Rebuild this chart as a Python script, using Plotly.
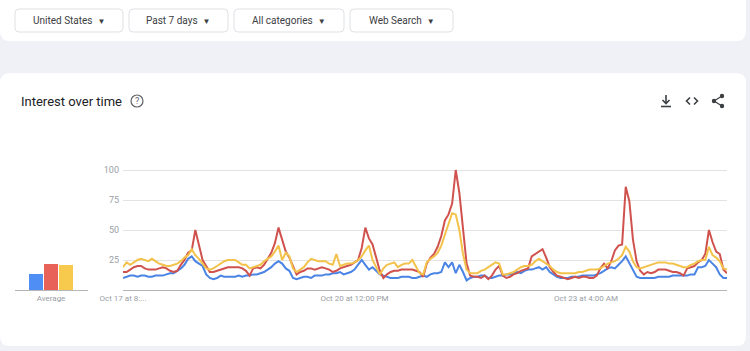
import plotly.graph_objects as go
import pandas as pd

W, H = 750, 351


def px(x):
    return x / W


def py(y):
    return 1 - y / H


# ---------------- data ----------------
times = pd.date_range("2023-10-17 20:00", periods=168, freq="h")

series_names = ["Term 1", "Term 2", "Term 3"]

blue = [10, 11, 12, 12, 11, 12, 12, 11, 11, 12, 12, 12, 13, 14, 14, 16, 18, 21, 26, 28,
        24, 22, 20, 13, 10, 9, 10, 12, 11, 11, 11, 11, 12, 11, 12, 12, 13, 13, 14, 15,
        17, 19, 22, 24, 22, 18, 16, 10, 9, 10, 11, 11, 10, 12, 12, 12, 13, 13, 14, 14,
        15, 13, 14, 15, 17, 21, 25, 21, 17, 19, 16, 13, 12, 11, 10, 10, 10, 11, 11, 11,
        10, 10, 11, 12, 11, 13, 14, 14, 15, 23, 19, 23, 14, 21, 15, 8, 10, 11, 11, 12,
        12, 10, 10, 11, 12, 12, 13, 13, 14, 15, 14, 16, 17, 17, 18, 19, 17, 19, 15, 13,
        11, 10, 10, 10, 11, 11, 11, 12, 12, 12, 12, 13, 14, 16, 18, 19, 18, 21, 24, 28,
        22, 17, 11, 10, 10, 10, 10, 10, 11, 11, 11, 11, 12, 12, 12, 12, 12, 13, 13, 19,
        19, 20, 25, 22, 19, 13, 10, 10]

red = [15, 15, 17, 19, 20, 20, 18, 17, 17, 17, 18, 19, 18, 16, 15, 16, 21, 25, 31, 33,
       50, 38, 25, 20, 15, 15, 16, 17, 18, 19, 19, 19, 19, 18, 16, 12, 18, 19, 18, 21,
       26, 31, 39, 52, 42, 32, 27, 20, 13, 15, 16, 18, 18, 17, 18, 19, 18, 17, 15, 16,
       18, 19, 20, 21, 23, 25, 35, 52, 43, 38, 27, 16, 10, 13, 15, 16, 16, 17, 17, 17,
       17, 16, 15, 11, 22, 27, 30, 36, 45, 58, 63, 72, 100, 81, 52, 22, 12, 11, 11, 10,
       12, 9, 12, 17, 20, 12, 10, 11, 13, 14, 16, 17, 18, 28, 30, 32, 34, 27, 19, 15,
       12, 11, 10, 9, 10, 11, 10, 11, 11, 10, 10, 12, 18, 22, 18, 24, 33, 37, 38, 86,
       74, 42, 24, 16, 13, 15, 14, 15, 17, 17, 17, 16, 15, 15, 14, 12, 18, 19, 20, 23,
       25, 30, 50, 40, 32, 30, 17, 14]

yellow = [19, 23, 21, 23, 25, 26, 25, 24, 26, 24, 22, 21, 20, 20, 21, 22, 24, 27, 29, 34,
          29, 26, 22, 18, 17, 18, 20, 22, 24, 25, 25, 25, 23, 21, 21, 18, 19, 20, 21, 24,
          26, 28, 32, 37, 25, 31, 28, 18, 15, 17, 19, 23, 26, 25, 24, 24, 24, 22, 21, 30,
          20, 21, 22, 22, 23, 25, 28, 33, 37, 25, 19, 13, 18, 21, 22, 23, 19, 21, 22, 22,
          25, 19, 14, 13, 23, 26, 28, 31, 37, 46, 55, 64, 63, 50, 30, 17, 14, 14, 14, 16,
          17, 19, 21, 23, 22, 13, 13, 14, 15, 17, 19, 20, 20, 21, 24, 26, 24, 22, 20, 17,
          15, 14, 14, 14, 14, 14, 15, 15, 16, 17, 17, 17, 18, 20, 22, 23, 24, 26, 29, 36,
          32, 24, 19, 18, 19, 20, 21, 22, 23, 23, 23, 22, 22, 21, 20, 19, 19, 21, 22, 24,
          25, 25, 36, 29, 27, 24, 18, 17]

avg_values = [13, 22, 21]
avg_label = ["Average"]

x_tick_vals = [times[0], times[64], times[128]]
x_tick_text = ["Oct 17 at 8:...", "Oct 20 at 12:00 PM", "Oct 23 at 4:00 AM"]
y_tick_vals = [25, 50, 75, 100]

dropdowns = ["United States", "Past 7 days", "All categories", "Web Search"]
title_text = "Interest over time"

# ---------------- styles ----------------
colors = ["#4a84e4", "#d0524f", "#f3c24a"]
bar_colors = ["#4f8ff5", "#e8625a", "#f7c94c"]
page_bg = "#eff1f7"
xtick_font = dict(family="Roboto, Arial, sans-serif", size=8, color="#9aa0a6")
ytick_font = dict(family="Roboto, Arial, sans-serif", size=9, color="#9aa0a6")

fig = go.Figure()

for name, vals, c in zip(series_names, [blue, red, yellow], colors):
    fig.add_trace(go.Scatter(x=times, y=vals, mode="lines", name=name,
                             line=dict(color=c, width=2), showlegend=False,
                             xaxis="x", yaxis="y"))

for i, (name, v) in enumerate(zip(series_names, avg_values)):
    fig.add_trace(go.Bar(x=[i], y=[v], name=name, marker=dict(color=bar_colors[i], line=dict(width=0)),
                         width=0.97, showlegend=False, xaxis="x2", yaxis="y2"))

plot_y_domain = [py(290), py(164)]

fig.update_layout(
    width=W, height=H,
    margin=dict(l=0, r=0, t=0, b=0, autoexpand=False),
    paper_bgcolor=page_bg,
    plot_bgcolor="rgba(0,0,0,0)",
    xaxis=dict(domain=[px(123), px(727)], range=[times[0], times[-1]],
               tickvals=x_tick_vals, ticktext=x_tick_text, tickfont=xtick_font,
               showgrid=False, zeroline=False, showline=True, linecolor="#b5b5b5",
               linewidth=1, ticks="", ticklabelstandoff=0, automargin=False),
    yaxis=dict(domain=plot_y_domain, range=[0, 105], tickvals=y_tick_vals,
               tickfont=ytick_font, showgrid=True, gridcolor="#e3e3e3", gridwidth=1,
               zeroline=False, showline=False, ticks="", ticklabelstandoff=3,
               automargin=False),
    xaxis2=dict(domain=[px(15), px(88)], range=[-1.45, 3.52], tickvals=[1],
                ticktext=avg_label, tickfont=xtick_font, showgrid=False, zeroline=False,
                showline=True, linecolor="#b5b5b5", linewidth=1, ticks="",
                anchor="y2", ticklabelstandoff=0, automargin=False),
    yaxis2=dict(domain=plot_y_domain, range=[0, 105], visible=False, anchor="x2",
                automargin=False),
    bargap=0,
)


def rrect(x0, y0, x1, y1, r):
    X0, X1 = px(x0), px(x1)
    Y0, Y1 = py(y0), py(y1)
    rx, ry = r / W, r / H
    return (f"M {X0+rx},{Y0} L {X1-rx},{Y0} Q {X1},{Y0} {X1},{Y0-ry} "
            f"L {X1},{Y1+ry} Q {X1},{Y1} {X1-rx},{Y1} L {X0+rx},{Y1} "
            f"Q {X0},{Y1} {X0},{Y1+ry} L {X0},{Y0-ry} Q {X0},{Y0} {X0+rx},{Y0} Z")


shapes = []
# cards
shapes.append(dict(type="path", path=rrect(0, -20, 746, 41, 10), xref="paper", yref="paper",
                   fillcolor="white", line=dict(width=0), layer="below"))
shapes.append(dict(type="path", path=rrect(0, 73, 746, 346, 10), xref="paper", yref="paper",
                   fillcolor="white", line=dict(width=0), layer="below"))
# dropdown boxes
boxes = [(15, 123), (129, 228), (234, 344), (350, 453)]
annotations = []
for (bx0, bx1), label in zip(boxes, dropdowns):
    shapes.append(dict(type="path", path=rrect(bx0, 9, bx1, 32, 4), xref="paper", yref="paper",
                       fillcolor="white", line=dict(width=1, color="#dfe1e5"), layer="below"))
    annotations.append(dict(x=px((bx0 + bx1) / 2), y=py(20.5), xref="paper", yref="paper",
                            text=label + "&nbsp;&nbsp;<span style='font-size:8px'>▼</span>",
                            showarrow=False, xanchor="center", yanchor="middle",
                            font=dict(family="Roboto, Arial, sans-serif", size=10, color="#3c4043")))

# title
annotations.append(dict(x=px(19), y=py(101), xref="paper", yref="paper", text=title_text,
                        showarrow=False, xanchor="left", yanchor="middle",
                        font=dict(family="Roboto, Arial, sans-serif", size=13, color="#202124")))
# help icon
shapes.append(dict(type="circle", xref="paper", yref="paper",
                   x0=px(131), x1=px(143), y0=py(107), y1=py(95),
                   line=dict(color="#5f6368", width=1.2), fillcolor="rgba(0,0,0,0)"))
annotations.append(dict(x=px(137), y=py(101), xref="paper", yref="paper", text="?",
                        showarrow=False, xanchor="center", yanchor="middle",
                        font=dict(family="Roboto, Arial, sans-serif", size=9, color="#5f6368")))

icon_line = dict(color="#3c4043", width=1.6)
# download icon
shapes.append(dict(type="line", xref="paper", yref="paper", x0=px(666), x1=px(666), y0=py(95), y1=py(103), line=icon_line))
shapes.append(dict(type="path", xref="paper", yref="paper",
                   path=f"M {px(662.5)},{py(100)} L {px(666)},{py(103.5)} L {px(669.5)},{py(100)}",
                   line=icon_line))
shapes.append(dict(type="line", xref="paper", yref="paper", x0=px(661), x1=px(671), y0=py(106.5), y1=py(106.5), line=icon_line))
# embed icon
shapes.append(dict(type="path", xref="paper", yref="paper",
                   path=f"M {px(690)},{py(97.5)} L {px(686.5)},{py(101)} L {px(690)},{py(104.5)}",
                   line=icon_line))
shapes.append(dict(type="path", xref="paper", yref="paper",
                   path=f"M {px(694)},{py(97.5)} L {px(697.5)},{py(101)} L {px(694)},{py(104.5)}",
                   line=icon_line))
# share icon
pts = [(722, 96), (714, 101), (722, 106)]
shapes.append(dict(type="path", xref="paper", yref="paper",
                   path=f"M {px(pts[0][0])},{py(pts[0][1])} L {px(pts[1][0])},{py(pts[1][1])} L {px(pts[2][0])},{py(pts[2][1])}",
                   line=dict(color="#3c4043", width=1.2)))
for (cx, cy) in pts:
    shapes.append(dict(type="circle", xref="paper", yref="paper",
                       x0=px(cx - 2.2), x1=px(cx + 2.2), y0=py(cy + 2.2), y1=py(cy - 2.2),
                       fillcolor="#3c4043", line=dict(width=0)))

fig.update_layout(shapes=shapes, annotations=annotations)

fig.write_html("out.html")
